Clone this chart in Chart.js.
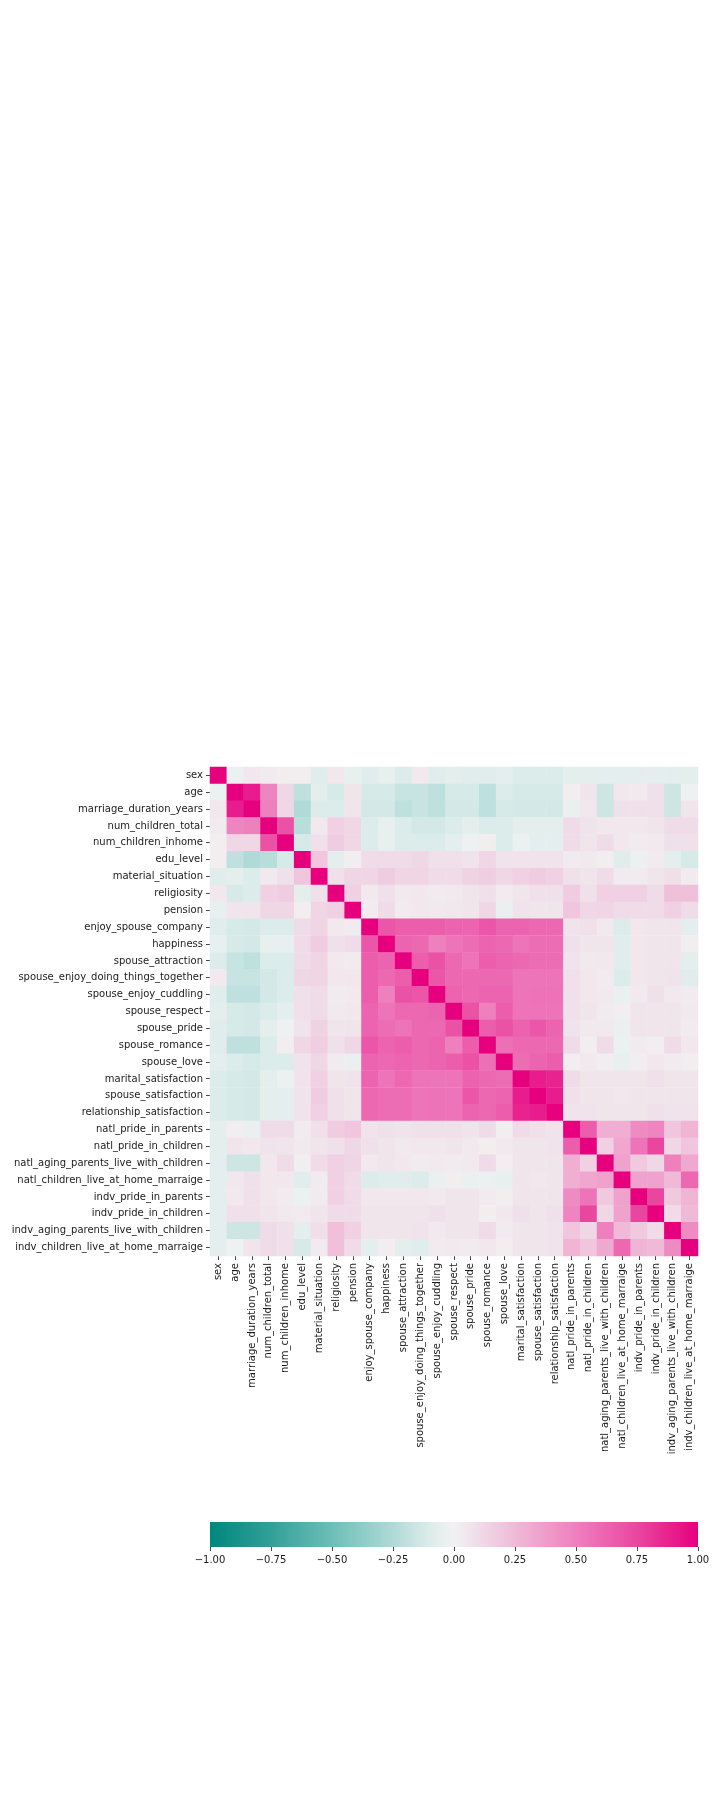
<!DOCTYPE html>
<html><head><meta charset="utf-8">
<script src="https://cdn.jsdelivr.net/npm/chart.js@4/dist/chart.umd.min.js"></script>
<style>
html,body{margin:0;padding:0;background:#fff;width:720px;height:1800px;overflow:hidden}
#hm{position:absolute;left:0;top:0}
#cb{position:absolute;left:0;top:1500px}
</style></head>
<body>
<canvas id="hm" width="720" height="1476"></canvas>
<canvas id="cb" width="720" height="80"></canvas>
<script>
const variables = [
  'sex','age','marriage_duration_years','num_children_total','num_children_inhome','edu_level',
  'material_situation','religiosity','pension','enjoy_spouse_company','happiness','spouse_attraction',
  'spouse_enjoy_doing_things_together','spouse_enjoy_cuddling','spouse_respect','spouse_pride',
  'spouse_romance','spouse_love','marital_satisfaction','spouse_satisfaction','relationship_satisfaction',
  'natl_pride_in_parents','natl_pride_in_children','natl_aging_parents_live_with_children',
  'natl_children_live_at_home_marraige','indv_pride_in_parents','indv_pride_in_children',
  'indv_aging_parents_live_with_children','indv_children_live_at_home_marraige'
];

// lower triangle of the correlation matrix, row i holds columns 0..i
const corrLower = [
  [1],
  [-0.03, 1],
  [0.05, 0.9, 1],
  [0.03, 0.48, 0.5, 1],
  [0.02, 0.12, 0.12, 0.7, 1],
  [0.02, -0.2, -0.25, -0.22, -0.12, 1],
  [-0.08, -0.07, -0.1, 0.04, 0.08, 0.2, 1],
  [0.05, -0.12, -0.1, 0.15, 0.17, -0.07, 0.08, 1],
  [-0.05, 0.06, 0.06, 0.12, 0.12, 0.02, 0.13, 0.15, 1],
  [-0.08, -0.12, -0.13, -0.1, -0.1, 0.1, 0.13, 0.04, 0.03, 1],
  [-0.05, -0.12, -0.13, -0.05, -0.05, 0.1, 0.17, 0.08, 0.1, 0.68, 1],
  [-0.1, -0.17, -0.2, -0.1, -0.1, 0.1, 0.13, 0.04, 0.03, 0.65, 0.62, 1],
  [0.04, -0.17, -0.17, -0.13, -0.1, 0.12, 0.13, 0.05, 0.05, 0.65, 0.6, 0.65, 1],
  [-0.08, -0.2, -0.2, -0.13, -0.1, 0.08, 0.1, 0.03, 0.04, 0.65, 0.5, 0.7, 0.68, 1],
  [-0.07, -0.12, -0.13, -0.1, -0.06, 0.08, 0.1, 0.04, 0.05, 0.62, 0.55, 0.6, 0.6, 0.62, 1],
  [-0.08, -0.12, -0.13, -0.07, -0.02, 0.07, 0.14, 0.06, 0.06, 0.62, 0.58, 0.55, 0.6, 0.6, 0.7, 1],
  [-0.08, -0.2, -0.2, -0.1, 0.02, 0.12, 0.16, 0.08, 0.12, 0.68, 0.62, 0.65, 0.6, 0.62, 0.5, 0.65, 1],
  [-0.06, -0.1, -0.12, -0.1, -0.1, 0.07, 0.12, 0.03, -0.04, 0.62, 0.6, 0.62, 0.6, 0.62, 0.65, 0.7, 0.57, 1],
  [-0.1, -0.12, -0.13, -0.07, -0.03, 0.07, 0.15, 0.06, 0.07, 0.62, 0.55, 0.6, 0.55, 0.55, 0.55, 0.63, 0.6, 0.58, 1],
  [-0.1, -0.12, -0.13, -0.07, -0.06, 0.07, 0.17, 0.08, 0.06, 0.6, 0.58, 0.58, 0.55, 0.56, 0.55, 0.68, 0.6, 0.62, 0.9, 1],
  [-0.1, -0.12, -0.13, -0.07, -0.06, 0.07, 0.15, 0.08, 0.06, 0.6, 0.58, 0.58, 0.55, 0.56, 0.55, 0.62, 0.6, 0.65, 0.88, 0.9, 1],
  [-0.07, 0.02, -0.04, 0.1, 0.1, 0.03, 0.08, 0.17, 0.2, 0.07, 0.08, 0.07, 0.08, 0.08, 0.08, 0.07, 0.1, 0.02, 0.1, 0.08, 0.07, 1],
  [-0.07, 0.06, 0.05, 0.07, 0.06, 0.04, 0.06, 0.08, 0.12, 0.08, 0.06, 0.04, 0.05, 0.05, 0.06, 0.04, 0.02, 0.04, 0.06, 0.06, 0.07, 0.65, 1],
  [-0.06, -0.15, -0.15, 0.05, 0.1, 0.02, 0.1, 0.15, 0.13, 0.04, 0.06, 0.05, 0.03, 0.04, 0.03, 0.04, 0.1, 0.02, 0.06, 0.06, 0.06, 0.3, 0.15, 1],
  [-0.06, 0.05, 0.08, 0.05, 0.05, -0.08, 0.03, 0.15, 0.1, -0.1, -0.08, -0.08, -0.1, -0.04, 0.02, -0.04, -0.03, -0.05, 0.06, 0.05, 0.06, 0.3, 0.33, 0.35, 1],
  [-0.06, 0.04, 0.08, 0.05, 0.03, -0.03, 0.03, 0.15, 0.1, 0.05, 0.05, 0.05, 0.05, 0.04, 0.06, 0.06, 0.03, 0.02, 0.06, 0.06, 0.06, 0.45, 0.55, 0.18, 0.35, 1],
  [-0.06, 0.08, 0.08, 0.06, 0.04, 0.03, 0.06, 0.1, 0.1, 0.06, 0.06, 0.06, 0.06, 0.08, 0.06, 0.06, 0.02, 0.05, 0.08, 0.06, 0.08, 0.48, 0.75, 0.12, 0.35, 0.75, 1],
  [-0.06, -0.15, -0.15, 0.1, 0.08, -0.07, 0.09, 0.22, 0.15, 0.06, 0.06, 0.06, 0.07, 0.04, 0.06, 0.06, 0.1, 0.03, 0.06, 0.06, 0.07, 0.2, 0.12, 0.5, 0.25, 0.18, 0.1, 1],
  [-0.07, -0.02, 0.06, 0.1, 0.08, -0.12, 0.03, 0.22, 0.1, -0.06, 0.02, -0.07, -0.08, 0.03, 0.04, 0.03, 0.05, 0.02, 0.06, 0.06, 0.07, 0.27, 0.2, 0.32, 0.6, 0.27, 0.25, 0.45, 1]
];

const colorbarTicks = [-1, -0.75, -0.5, -0.25, 0, 0.25, 0.5, 0.75, 1];

// colormap (diverging teal - light - magenta)
const cmapStops = [
  [-1.00, [0, 135, 125]],
  [-0.75, [50, 160, 152]],
  [-0.50, [110, 190, 184]],
  [-0.25, [175, 218, 215]],
  [-0.10, [220, 236, 235]],
  [0.00, [242, 242, 242]],
  [0.10, [240, 220, 232]],
  [0.25, [240, 185, 215]],
  [0.50, [238, 128, 190]],
  [0.75, [234, 70, 160]],
  [1.00, [230, 0, 126]]
];
function colorFor(v) {
  v = Math.max(-1, Math.min(1, v));
  for (let i = 1; i < cmapStops.length; i++) {
    const [v1, c1] = cmapStops[i];
    const [v0, c0] = cmapStops[i - 1];
    if (v <= v1) {
      const t = (v - v0) / (v1 - v0);
      const c = c0.map((a, k) => Math.round(a + (c1[k] - a) * t));
      return `rgb(${c[0]},${c[1]},${c[2]})`;
    }
  }
  return 'rgb(230,0,126)';
}

const n = variables.length;
const cells = [];
for (let r = 0; r < n; r++) {
  for (let c = 0; c < n; c++) {
    const v = c <= r ? corrLower[r][c] : corrLower[c][r];
    cells.push({ x: variables[c], y: variables[r], v: v });
  }
}

Chart.defaults.font.family = "'DejaVu Sans', sans-serif";
Chart.defaults.font.size = 10;
Chart.defaults.color = '#1a1a1a';

const tickGrid = {
  display: true, drawOnChartArea: false, drawTicks: true,
  tickLength: 4, tickColor: '#333', tickWidth: 0.9
};

new Chart(document.getElementById('hm'), {
  type: 'scatter',
  data: {
    datasets: [{
      data: cells,
      pointStyle: 'rect',
      pointBorderWidth: 0,
      borderWidth: 0,
      pointRadius: (ctx) => {
        const a = ctx.chart.chartArea;
        const w = a ? a.width / n : 16.8;
        return w / Math.SQRT2 + 0.35;
      },
      backgroundColor: (ctx) => ctx.raw ? colorFor(ctx.raw.v) : '#fff'
    }]
  },
  options: {
    responsive: false,
    animation: false,
    events: [],
    layout: { padding: { left: 0, right: 22, top: 767, bottom: 0 } },
    plugins: { legend: { display: false }, tooltip: { enabled: false } },
    scales: {
      x: {
        type: 'category', labels: variables, offset: true,
        grid: tickGrid, border: { display: false },
        ticks: { autoSkip: false, minRotation: 90, maxRotation: 90, padding: 3 },
        afterFit: (s) => { s.height = 220; }
      },
      y: {
        type: 'category', labels: variables, offset: true,
        grid: tickGrid, border: { display: false },
        ticks: { autoSkip: false, padding: 3 },
        afterFit: (s) => { s.width = 210; }
      }
    }
  }
});

const gradientPlugin = {
  id: 'cbar',
  beforeDatasetsDraw(chart) {
    const { ctx, chartArea: a, scales: { x } } = chart;
    const x0 = x.getPixelForValue(-1), x1 = x.getPixelForValue(1);
    const g = ctx.createLinearGradient(x0, 0, x1, 0);
    for (let i = 0; i <= 200; i++) {
      const v = -1 + 2 * i / 200;
      g.addColorStop(i / 200, colorFor(v));
    }
    ctx.save();
    ctx.fillStyle = g;
    ctx.fillRect(x0, a.top, x1 - x0, a.height);
    ctx.restore();
  }
};

new Chart(document.getElementById('cb'), {
  type: 'scatter',
  data: { datasets: [] },
  plugins: [gradientPlugin],
  options: {
    responsive: false,
    animation: false,
    events: [],
    layout: { padding: { left: 210, right: 22, top: 22, bottom: 0 } },
    plugins: { legend: { display: false }, tooltip: { enabled: false } },
    scales: {
      x: {
        type: 'linear', min: -1, max: 1,
        afterBuildTicks: (s) => { s.ticks = colorbarTicks.map(v => ({ value: v })); },
        grid: tickGrid, border: { display: false },
        ticks: { padding: 3, callback: (v) => Number(v).toFixed(2).replace('-', '\u2212') },
        afterFit: (s) => { s.height = 33; }
      },
      y: { display: false, min: 0, max: 1 }
    }
  }
});
</script>
</body></html>
